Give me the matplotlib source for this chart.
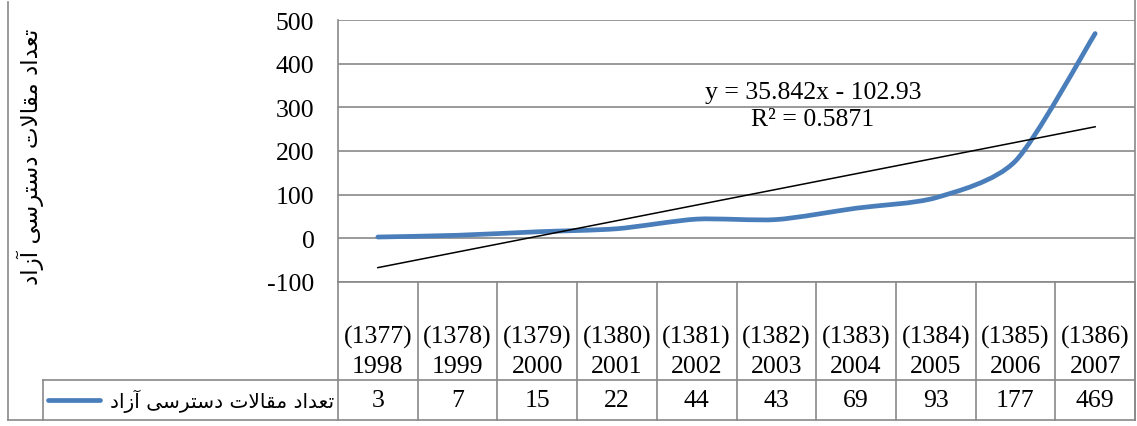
import numpy as np
import matplotlib
matplotlib.use('Agg')
import matplotlib.pyplot as plt
from matplotlib.lines import Line2D
from matplotlib.path import Path
from matplotlib.patches import PathPatch

# data
years = ['1998', '1999', '2000', '2001', '2002', '2003', '2004', '2005', '2006', '2007']
persian_years = ['1377', '1378', '1379', '1380', '1381', '1382', '1383', '1384', '1385', '1386']
counts = [3, 7, 15, 22, 44, 43, 69, 93, 177, 469]
yticks = [-100, 0, 100, 200, 300, 400, 500]
series_name = 'تعداد مقالات دسترسی آزاد'
eq_text = 'y = 35.842x - 102.93'
r2_text = 'R² = 0.5871'

plt.rcParams['axes.unicode_minus'] = False

BLUE = '#4A7EBB'
GRID = '#898989'
SERIF = 'Liberation Serif'
FS = 18.5

# matplotlib has no arabic shaping, so pick the joined glyph forms by hand
# (isolated, final, initial, medial); right-joining letters only have two
FORMS = {
    'ا': ('\uFE8D', '\uFE8E'), 'آ': ('\uFE81', '\uFE82'),
    'د': ('\uFEA9', '\uFEAA'), 'ر': ('\uFEAD', '\uFEAE'),
    'ز': ('\uFEAF', '\uFEB0'),
    'ت': ('\uFE95', '\uFE96', '\uFE97', '\uFE98'),
    'ع': ('\uFEC9', '\uFECA', '\uFECB', '\uFECC'),
    'م': ('\uFEE1', '\uFEE2', '\uFEE3', '\uFEE4'),
    'ق': ('\uFED5', '\uFED6', '\uFED7', '\uFED8'),
    'ل': ('\uFEDD', '\uFEDE', '\uFEDF', '\uFEE0'),
    'س': ('\uFEB1', '\uFEB2', '\uFEB3', '\uFEB4'),
    'ی': ('\uFBFC', '\uFEF0', '\uFBFE', '\uFBFF'),
}


def shape(text):
    out = []
    for word in text.split(' '):
        glyphs = []
        i = 0
        while i < len(word):
            ch = word[i]
            prev = word[i - 1] if i > 0 else None
            joins_prev = prev is not None and len(FORMS[prev]) == 4
            if ch == 'ل' and i + 1 < len(word) and word[i + 1] == 'ا':
                glyphs.append('\uFEFC' if joins_prev else '\uFEFB')
                i += 2
                continue
            f = FORMS[ch]
            nxt = word[i + 1] if i + 1 < len(word) else None
            joins_next = len(f) == 4 and nxt is not None
            if joins_prev and joins_next:
                g = f[3]
            elif joins_prev:
                g = f[1]
            elif joins_next:
                g = f[2]
            else:
                g = f[0]
            glyphs.append(g)
            i += 1
        out.append(''.join(reversed(glyphs)))
    return ' '.join(reversed(out))


W, H = 1137, 427
fig = plt.figure(figsize=(W / 100, H / 100), dpi=100)
ax_l, ax_r, ax_t, ax_b = 338, 1135, 21, 283
ax = fig.add_axes([ax_l / W, 1 - ax_b / H, (ax_r - ax_l) / W, (ax_b - ax_t) / H])

x = np.arange(1, len(counts) + 1)
ax.set_xlim(0.5, len(counts) + 0.5)
ax.set_ylim(-100, 500)
ax.set_yticks(yticks)
ax.set_xticks([])
ax.yaxis.grid(True, color=GRID, lw=1.2)
ax.set_axisbelow(True)
ax.tick_params(axis='y', length=0, pad=17, labelsize=FS)
for lab in ax.get_yticklabels():
    lab.set_fontfamily(SERIF)
for s in ['top', 'right']:
    ax.spines[s].set_visible(False)
for s in ['left', 'bottom']:
    ax.spines[s].set_color(GRID)
    ax.spines[s].set_linewidth(1.2)

# smoothed line like excel (bezier through points)
pts = np.column_stack([x, counts]).astype(float)
ext = np.vstack([pts[0], pts, pts[-1]])
verts = [pts[0]]
codes = [Path.MOVETO]
k = 1 / 8
for i in range(len(pts) - 1):
    p0, p1, p2, p3 = ext[i], ext[i + 1], ext[i + 2], ext[i + 3]
    verts += [p1 + (p2 - p0) * k, p2 - (p3 - p1) * k, p2]
    codes += [Path.CURVE4] * 3
ax.add_patch(PathPatch(Path(verts, codes), fill=False, edgecolor=BLUE,
                       lw=3.4, capstyle='round', joinstyle='round', zorder=3))

# linear trend line
slope, icpt = np.polyfit(x, counts, 1)
ax.plot([x[0], x[-1]], [slope * x[0] + icpt, slope * x[-1] + icpt],
        color='black', lw=1.1, zorder=4)
ax.text(6.46, 305, eq_text + '\n' + r2_text, ha='center', va='center',
        fontsize=FS, family=SERIF, linespacing=1.3)

# category labels and data table under the axis
ax_h = ax_b - ax_t
row1 = -(381 - ax_b) / ax_h
row2 = -(421 - ax_b) / ax_h
tr = ax.get_xaxis_transform()
for j in range(len(counts) + 1):
    ax.add_line(Line2D([0.5 + j, 0.5 + j], [0, row2], transform=tr,
                       color=GRID, lw=1.2, clip_on=False))
ax.add_line(Line2D([0.5, len(counts) + 0.5], [row1, row1], transform=tr,
                   color=GRID, lw=1.2, clip_on=False))
for xi, py, yr, c in zip(x, persian_years, years, counts):
    ax.text(xi, -(378 - ax_b) / ax_h, '(' + py + ')\n' + yr, transform=tr,
            ha='center', va='bottom', fontsize=FS, family=SERIF, linespacing=1.4)
    ax.text(xi, (row1 + row2) / 2, str(c), transform=tr,
            ha='center', va='center', fontsize=FS, family=SERIF)


def fline(xs, ys, **kw):
    fig.add_artist(Line2D([v / W for v in xs], [1 - v / H for v in ys],
                          transform=fig.transFigure, color=GRID, lw=1.2, **kw))


# legend cell of the data table
fline([43, ax_l], [381, 381])
fline([43, 43], [381, 421])
fline([8, ax_r], [421, 421])
fline([8, 8], [3, 421])
fline([ax_r, ax_r], [0, 421])
fig.add_artist(Line2D([48 / W, 100 / W], [1 - 401 / H, 1 - 401 / H],
                      transform=fig.transFigure, color=BLUE, lw=3.4,
                      solid_capstyle='round'))
fig.text(334 / W, 1 - 401 / H, shape(series_name), ha='right', va='center',
         fontsize=14.5, family='DejaVu Sans')

# y axis title
fig.text(30 / W, 1 - 157 / H, shape(series_name), rotation=90, ha='center',
         va='center', fontsize=16.7, family='DejaVu Sans')

fig.savefig('out.png', dpi=100)
